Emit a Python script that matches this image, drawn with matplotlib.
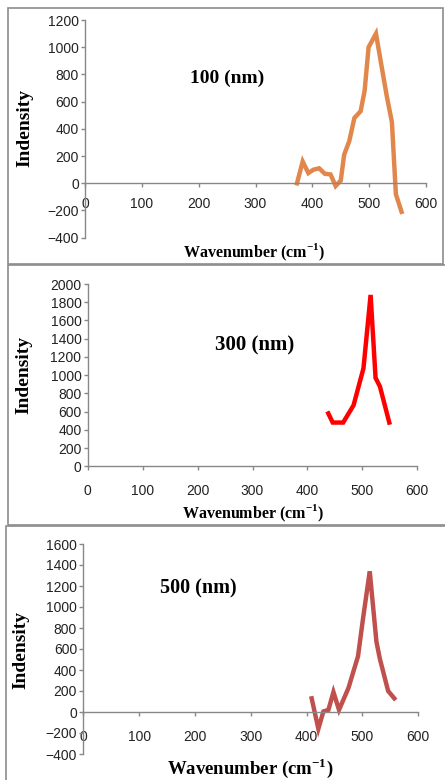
#!/usr/bin/env python3
"""Raman-like spectra for three film thicknesses, stacked in three boxes"""
import matplotlib
matplotlib.use("Agg")
import matplotlib.pyplot as plt
from matplotlib.patches import Rectangle

# 100 nm sample
wave_100 = [373, 383, 393, 402, 412, 422, 432, 441, 450, 456, 465, 474,
            485, 492, 499, 512, 521, 531, 540, 547, 557]
int_100 = [0, 160, 75, 100, 110, 70, 65, -20, 20, 210, 310, 480,
           530, 680, 1000, 1100, 880, 640, 450, -80, -210]

# 300 nm sample
wave_300 = [438, 446, 465, 484, 502, 515, 524, 532, 549]
int_300 = [580, 480, 480, 670, 1075, 1880, 970, 875, 480]

# 500 nm sample
wave_500 = [409, 421, 430, 439, 448, 458, 475, 484, 492, 501, 513, 525,
            531, 546, 557]
int_500 = [130, -160, 5, 20, 190, 20, 230, 390, 530, 890, 1340, 670,
           510, 200, 130]

labels = ["100 (nm)", "300 (nm)", "500 (nm)"]
colors = ["#E2874B", "#FF0000", "#C0504D"]

W, H = 445, 780
fig = plt.figure(figsize=(W / 100, H / 100), dpi=100)

plt.rcParams["mathtext.fontset"] = "custom"
plt.rcParams["mathtext.bf"] = "Liberation Serif:bold"


def frac(x, y):
    return x / W, 1 - y / H


def box(x0, y0, x1, y1):
    fig.add_artist(Rectangle((x0 / W, 1 - y1 / H), (x1 - x0) / W, (y1 - y0) / H,
                             transform=fig.transFigure, fill=False,
                             edgecolor="#8c8c8c", linewidth=1.2))


def panel(px, x, y, ylim, yticks, color, label, lab_xy, lab_size, ylab_xy,
          xlab_xy, xlab_size, lab_pad):
    x0, y0, x1, y1 = px
    ax = fig.add_axes([x0 / W, 1 - y1 / H, (x1 - x0) / W, (y1 - y0) / H])
    ax.plot(x, y, color=color, linewidth=3.2, solid_joinstyle="miter")
    ax.set_xlim(0, 600)
    ax.set_ylim(*ylim)
    ax.set_xticks(range(0, 601, 100))
    ax.set_yticks(yticks)
    for s in ["top", "right"]:
        ax.spines[s].set_visible(False)
    ax.spines["bottom"].set_position(("data", 0))
    for s in ["left", "bottom"]:
        ax.spines[s].set_color("#888888")
        ax.spines[s].set_linewidth(1.0)
    ax.tick_params(axis="both", colors="#888888", labelcolor="#222222",
                   labelsize=10, length=3, width=1.0)
    ax.tick_params(axis="x", pad=lab_pad)
    ax.tick_params(axis="y", pad=1.5)
    for t in ax.get_xticklabels() + ax.get_yticklabels():
        t.set_family("Liberation Sans")
    ax.patch.set_alpha(0)

    fig.text(*frac(*lab_xy), label, ha="center", va="center",
             family="Liberation Serif", weight="bold", fontsize=lab_size)
    fig.text(*frac(*ylab_xy), "Indensity", ha="center", va="center",
             rotation=90, family="Liberation Serif", weight="bold", fontsize=14)
    fig.text(*frac(*xlab_xy), r"Wavenumber (cm$^{\mathbf{-1}}$)", ha="center",
             va="center", family="Liberation Serif", weight="bold",
             fontsize=xlab_size)
    return ax


box(8, 8, 443, 264)
box(8, 265, 446, 525)
box(6, 526, 446, 781)

panel((85, 20, 426, 237.7), wave_100, int_100, (-400, 1200),
      range(-400, 1201, 200), colors[0], labels[0], (227, 78), 14,
      (25, 128), (254, 252), 11.5, 7)
panel((87.7, 284, 417.3, 466.3), wave_300, int_300, (0, 2000),
      range(0, 2001, 200), colors[1], labels[1], (255, 345), 15,
      (24, 375), (253, 513), 11.5, 10)
panel((83.3, 544, 418.3, 754), wave_500, int_500, (-400, 1600),
      range(-400, 1601, 200), colors[2], labels[2], (198, 588), 14.5,
      (21, 650), (250, 768), 13.5, 10)

plt.savefig("out.png", dpi=100)
